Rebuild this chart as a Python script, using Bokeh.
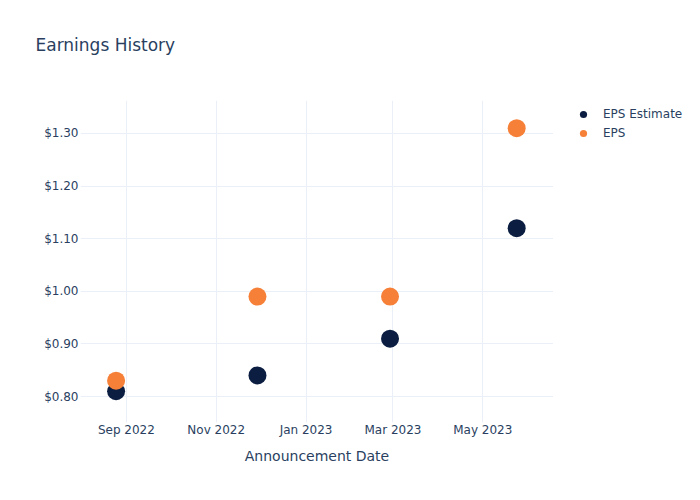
import datetime as dt
from bokeh.plotting import figure
from bokeh.layouts import row
from bokeh.models import (ColumnDataSource, Range1d, FixedTicker, MonthsTicker,
                          DatetimeTickFormatter, NumeralTickFormatter, Legend,
                          LegendItem, Title)
from bokeh.embed import file_html
from bokeh.resources import INLINE

dates = [dt.datetime(2022, 8, 25), dt.datetime(2022, 11, 29),
         dt.datetime(2023, 2, 27), dt.datetime(2023, 5, 24)]
eps_estimate = [0.81, 0.84, 0.91, 1.12]
eps_actual = [0.83, 0.99, 0.99, 1.31]
y_ticks = [0.80, 0.90, 1.00, 1.10, 1.20, 1.30]
series_names = ["EPS Estimate", "EPS"]
series_colors = ["#0b1e41", "#f68038"]

FONT = "DejaVu Sans"
TXT = "#2a3f5f"
GRID = "#ebf0f8"

p = figure(width=553, height=500, output_backend="svg", toolbar_location=None,
           x_axis_type="datetime",
           x_range=Range1d(dt.datetime(2022, 7, 31, 20), dt.datetime(2023, 6, 18)),
           y_range=Range1d(0.7506, 1.3627),
           min_border_left=80, min_border_right=0,
           min_border_top=100, min_border_bottom=78)
p.outline_line_color = None
p.background_fill_color = "white"
p.border_fill_color = "white"
p.title.text = ""

# spacer (closest to frame) then the real title above it
spacer_top = Title(text=" ", text_font_size="1px", standoff=42)
p.add_layout(spacer_top, "above")
main_title = Title(text="Earnings History", text_font=FONT, text_font_size="17px",
                   text_font_style="normal", text_color=TXT, align="left",
                   offset=-45, standoff=2, vertical_align="bottom")
p.add_layout(main_title, "above")

src_e = ColumnDataSource(dict(x=dates, y=eps_estimate))
src_a = ColumnDataSource(dict(x=dates, y=eps_actual))
p.scatter("x", "y", source=src_e, size=18, color=series_colors[0], line_color=None)
p.scatter("x", "y", source=src_a, size=18, color=series_colors[1], line_color=None)

p.xaxis.ticker = MonthsTicker(months=[0, 2, 4, 6, 8, 10])
p.xaxis.formatter = DatetimeTickFormatter(months="%b %Y", days="%b %Y")
p.yaxis.ticker = FixedTicker(ticks=y_ticks)
p.yaxis.formatter = NumeralTickFormatter(format="$0.00")

for ax in (p.xaxis, p.yaxis):
    ax.axis_line_color = None
    ax.major_tick_line_color = None
    ax.minor_tick_line_color = None
    ax.major_tick_out = 0
    ax.major_tick_in = 0
    ax.minor_tick_out = 0
    ax.major_label_text_color = TXT
    ax.major_label_text_font = FONT
    ax.major_label_text_font_size = "12px"
p.xaxis.major_label_standoff = 0
p.yaxis.major_label_standoff = 2
p.xaxis.axis_label = "Announcement Date"
p.xaxis.axis_label_text_font = FONT
p.xaxis.axis_label_text_font_size = "14px"
p.xaxis.axis_label_text_font_style = "normal"
p.xaxis.axis_label_text_color = TXT
p.xaxis.axis_label_standoff = 8

p.xgrid.grid_line_color = GRID
p.ygrid.grid_line_color = GRID

# legend panel as a separate bare figure to the right
lf = figure(width=147, height=500, output_backend="svg", toolbar_location=None,
            x_range=Range1d(0, 1), y_range=Range1d(0, 1),
            x_axis_location=None, y_axis_location=None,
            min_border_left=0, min_border_right=0,
            min_border_top=0, min_border_bottom=0)
lf.outline_line_color = None
lf.xgrid.visible = False
lf.ygrid.visible = False
lf.title.text = ""
# legend proxies: same series, lying outside this panel's ranges (never visible)
lg1 = lf.scatter(x="x", y="y", source=src_e, size=18, color=series_colors[0],
                 line_color=None)
lg2 = lf.scatter(x="x", y="y", source=src_a, size=18, color=series_colors[1],
                 line_color=None)

legend = Legend(items=[LegendItem(label=series_names[0], renderers=[lg1]),
                       LegendItem(label=series_names[1], renderers=[lg2])],
                location=(21, 280))
legend.border_line_color = None
legend.background_fill_alpha = 0
legend.label_text_font = FONT
legend.label_text_font_size = "12px"
legend.label_text_color = TXT
legend.glyph_width = 18
legend.glyph_height = 18
legend.spacing = 1
legend.padding = 0
legend.margin = 0
legend.label_standoff = 11
lf.add_layout(legend)

layout = row(p, lf)
open("out.html", "w").write(file_html(layout, INLINE))
